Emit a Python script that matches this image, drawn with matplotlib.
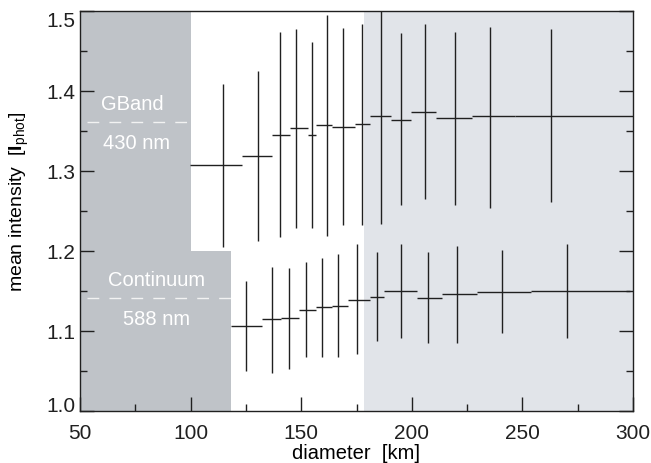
import matplotlib
matplotlib.use("Agg")
import matplotlib.pyplot as plt
import numpy as np
from matplotlib.ticker import MultipleLocator, FixedLocator, FormatStrFormatter

plt.rcParams['font.family'] = ['Liberation Sans', 'DejaVu Sans']
plt.rcParams['mathtext.fontset'] = 'custom'
plt.rcParams['mathtext.rm'] = 'Liberation Sans'
plt.rcParams['mathtext.bf'] = 'Liberation Sans:bold'

# G-band (430 nm): bin centre, bin edges, mean intensity, error bar ends
gb_x = [114.5, 130.5, 140.4, 147.8, 154.7, 161.5, 169.0, 177.3, 185.9, 195.1, 206.0, 219.5, 235.5, 263.1]
gb_lo = [99.7, 123.4, 136.8, 145.1, 152.9, 156.7, 163.9, 174.3, 181.1, 190.5, 199.5, 210.9, 227.1, 246.8]
gb_hi = [123.1, 136.7, 144.9, 152.9, 156.7, 163.9, 174.3, 181.1, 190.5, 199.5, 210.9, 227.1, 246.8, 302.0]
gb_y = [1.307, 1.318, 1.345, 1.353, 1.345, 1.357, 1.355, 1.358, 1.369, 1.364, 1.374, 1.366, 1.368, 1.369]
gb_top = [1.408, 1.425, 1.473, 1.477, 1.461, 1.495, 1.478, 1.484, 1.510, 1.472, 1.483, 1.474, 1.480, 1.477]
gb_bot = [1.205, 1.212, 1.217, 1.229, 1.229, 1.218, 1.232, 1.232, 1.233, 1.257, 1.265, 1.257, 1.254, 1.261]

# Continuum (588 nm)
ct_x = [125.2, 136.8, 144.5, 152.2, 159.3, 166.8, 175.4, 184.3, 195.0, 207.2, 220.6, 240.8, 270.3]
ct_lo = [118.1, 132.3, 140.9, 148.9, 156.7, 164.1, 171.0, 181.1, 187.4, 202.3, 213.6, 229.6, 253.7]
ct_hi = [132.3, 140.9, 148.9, 156.7, 164.1, 171.0, 181.1, 187.4, 202.3, 213.6, 229.6, 253.7, 298.5]
ct_y = [1.106, 1.115, 1.116, 1.126, 1.130, 1.131, 1.139, 1.143, 1.150, 1.141, 1.146, 1.149, 1.150]
ct_top = [1.162, 1.180, 1.178, 1.186, 1.191, 1.196, 1.208, 1.198, 1.208, 1.198, 1.206, 1.201, 1.208]
ct_bot = [1.050, 1.048, 1.053, 1.067, 1.068, 1.068, 1.071, 1.088, 1.091, 1.085, 1.085, 1.097, 1.091]

y_ticks = [1.0, 1.1, 1.2, 1.3, 1.4, 1.5]

fig = plt.figure(figsize=(6.51, 4.64), dpi=100)
ax = fig.add_axes([80 / 651, (464 - 412) / 464, (633 - 80) / 651, (412 - 11.7) / 464])

dark = '#bfc3c8'
light = '#e1e4e9'
# resolution-limited regions
ax.axvspan(178.5, 300, color=light, lw=0, zorder=0)
ax.fill_between([50, 100], 1.2, 1.5, color=dark, lw=0, zorder=0)
ax.fill_between([50, 118.1], 1.0, 1.2, color=dark, lw=0, zorder=0)

ax.plot([53.2, 100], [1.361, 1.361], color='#f2f2f2', lw=1.0, dashes=(8.5, 7.3), zorder=1)
ax.plot([53.2, 118.1], [1.141, 1.141], color='#f2f2f2', lw=1.0, dashes=(8.5, 7.3), zorder=1)
ax.text(73.5, 1.384, 'GBand', color='white', fontsize=14.5, ha='center', va='center')
ax.text(75.5, 1.335, '430 nm', color='white', fontsize=14.5, ha='center', va='center')
ax.text(84.5, 1.164, 'Continuum', color='white', fontsize=14.5, ha='center', va='center')
ax.text(84.5, 1.115, '588 nm', color='white', fontsize=14.5, ha='center', va='center')

for xs, lo, hi, ys, top, bot in [(gb_x, gb_lo, gb_hi, gb_y, gb_top, gb_bot),
                                 (ct_x, ct_lo, ct_hi, ct_y, ct_top, ct_bot)]:
    xs = np.array(xs); ys = np.array(ys)
    xerr = [xs - np.array(lo), np.array(hi) - xs]
    yerr = [ys - np.array(bot), np.array(top) - ys]
    ax.errorbar(xs, ys, xerr=xerr, yerr=yerr, fmt='none', ecolor='#202020',
                elinewidth=1.0, capsize=0, zorder=2)

ax.set_xlim(50, 300)
ax.set_ylim(1.0, 1.5)
ax.xaxis.set_major_locator(MultipleLocator(50))
ax.xaxis.set_minor_locator(MultipleLocator(25))
ax.yaxis.set_major_locator(FixedLocator(y_ticks))
ax.yaxis.set_minor_locator(MultipleLocator(0.05))
ax.yaxis.set_major_formatter(FormatStrFormatter('%.1f'))
ax.tick_params(which='both', direction='in', left=True, right=True, bottom=True, top=False,
               labelsize=15, colors='#202020')
ax.tick_params(axis='x', pad=8.5)
ax.tick_params(axis='y', pad=3.5)
ax.tick_params(which='major', length=10, width=1)
ax.tick_params(which='minor', length=5, width=1)
for s in ax.spines.values():
    s.set_linewidth(1.0)
    s.set_color('#202020')

# keep the end labels of the y axis inside the axis range
yt = ax.yaxis.get_major_ticks()
yt[0].label1.set_verticalalignment('baseline')
yt[-1].label1.set_verticalalignment('top')

ax.set_xlabel('diameter  [km]', fontsize=14.5, labelpad=1)
ax.set_ylabel(r'mean intensity  [$\mathbf{I}_{\rm phot}$]', fontsize=14)
ax.yaxis.set_label_coords(-0.088, 0.525)

fig.savefig('out.png', dpi=100)
